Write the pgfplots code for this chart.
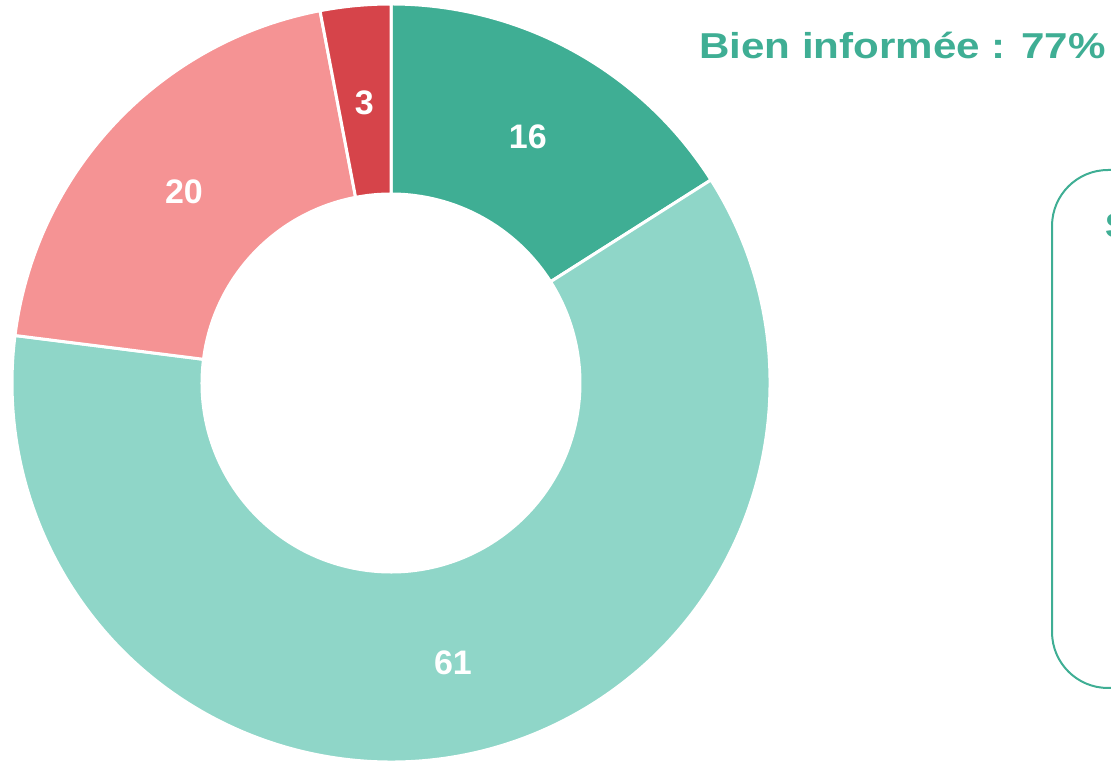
\documentclass[border=0pt]{standalone}
\usepackage{fontspec}
\setmainfont{Liberation Sans}
\usepackage{graphicx}
\usepackage{pgfplots}
\usepackage{pgfplotstable}
\pgfplotsset{compat=1.18}
\definecolor{cA}{HTML}{3FAE94}
\definecolor{cB}{HTML}{8FD6C8}
\definecolor{cC}{HTML}{F59394}
\definecolor{cD}{HTML}{D6444A}
\pgfplotstableread{
value color
16 cA
61 cB
20 cC
3 cD
}\donut
\begin{document}
\begin{tikzpicture}
\begin{axis}[scale only axis, width=1111pt, height=762pt,
  xmin=0, xmax=1111, ymin=0, ymax=762, hide axis, clip=false]
\gdef\cum{0}
\pgfplotsinvokeforeach{0,1,2,3}{%
  \pgfplotstablegetelem{#1}{value}\of\donut \let\v\pgfplotsretval
  \pgfplotstablegetelem{#1}{color}\of\donut \let\c\pgfplotsretval
  \pgfmathsetmacro\sa{90-3.6*\cum}%
  \pgfmathsetmacro\ea{90-3.6*(\cum+\v)}%
  \pgfmathsetmacro\ma{(\sa+\ea)/2}%
  \pgfmathsetmacro\newcum{\cum+\v}%
  \xdef\cum{\newcum}%
  \edef\temp{\noexpand\fill[\c, draw=white, line width=3pt]
    ([shift={(\sa:379pt)}]axis cs:391,379) arc[start angle=\sa, end angle=\ea, radius=379pt]
    -- ([shift={(\ea:189pt)}]axis cs:391,379) arc[start angle=\ea, end angle=\sa, radius=189pt] -- cycle;
    \noexpand\node[text=white, yshift=-3pt, font=\noexpand\fontsize{34}{40}\noexpand\selectfont\noexpand\bfseries]
      at ([shift={(\ma:284pt)}]axis cs:391,379) {\v};}%
  \temp
}
\node[anchor=base west, inner sep=0pt, text=cA, font=\fontsize{36}{42}\selectfont\bfseries]
  at (axis cs:699,703) {\scalebox{1.17}[1]{Bien informée : 77\%}};
\draw[cA, line width=2pt, rounded corners=56pt] (axis cs:1052,74) rectangle (axis cs:1400,592);
\node[anchor=base west, inner sep=0pt, text=cA, font=\fontsize{34}{40}\selectfont\bfseries]
  at (axis cs:1105,524) {S};
\end{axis}
\pgfresetboundingbox
\path (0,0) rectangle (1111pt,762pt);
\end{tikzpicture}
\end{document}
